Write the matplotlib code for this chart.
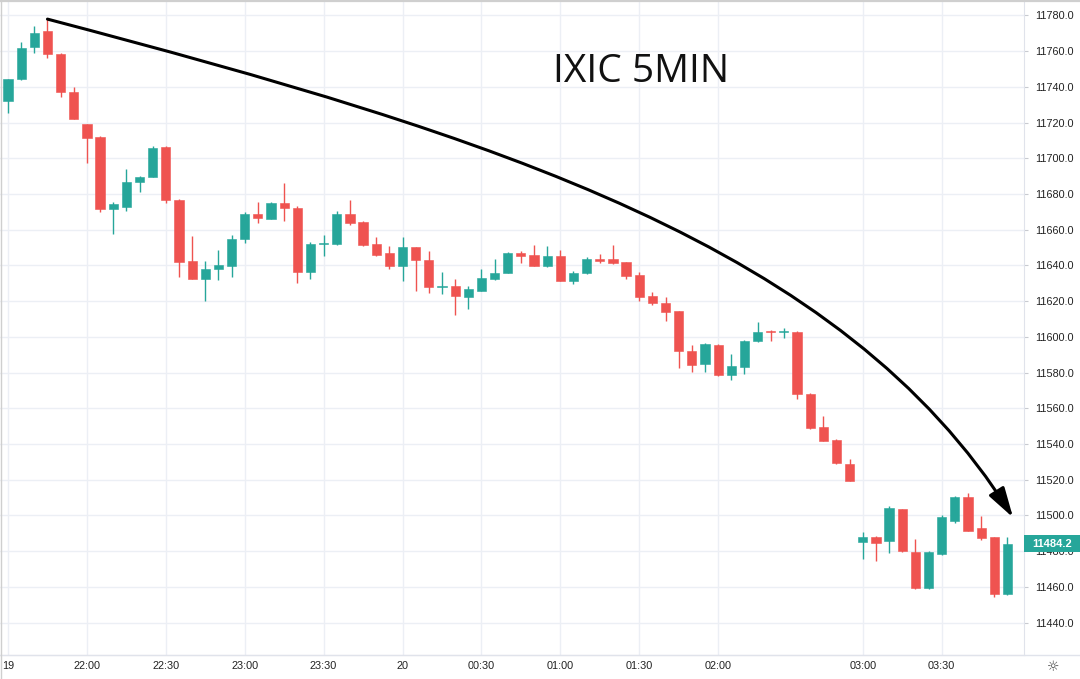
import matplotlib
matplotlib.use('Agg')
import matplotlib.pyplot as plt
import matplotlib.transforms as mtransforms
from matplotlib.path import Path
from matplotlib.patches import FancyArrowPatch, Rectangle
from matplotlib.lines import Line2D
import numpy as np

# IXIC 5分钟K线 (open, high, low, close)
opens = [11732.2, 11744.2, 11762.3, 11771.4, 11758.5, 11736.9, 11719.0, 11711.9, 11671.5, 11672.9,
         11686.6, 11689.5, 11706.3, 11676.7, 11642.7, 11632.5, 11637.9, 11639.4, 11654.7, 11668.8,
         11666.2, 11674.8, 11672.4, 11636.2, 11651.7, 11652.2, 11668.8, 11664.4, 11652.2, 11646.9,
         11639.9, 11650.2, 11643.1, 11627.8, 11628.2, 11622.4, 11625.9, 11632.5, 11635.7, 11646.9,
         11645.7, 11639.9, 11645.3, 11631.4, 11635.7, 11643.7, 11643.7, 11641.8, 11634.7, 11622.8,
         11619.2, 11614.2, 11592.2, 11584.8, 11595.6, 11578.8, 11583.2, 11597.4, 11603.4, 11602.7,
         11602.7, 11568.1, 11549.5, 11542.2, 11529.0, 11485.2, 11487.7, 11485.5, 11503.4, 11479.4,
         11459.4, 11478.1, 11496.7, 11510.5, 11492.8, 11487.7, 11456.1]
highs = [11744.5, 11765.1, 11774.0, 11777.9, 11758.7, 11739.7, 11719.3, 11712.2, 11675.6, 11693.8,
         11689.9, 11706.9, 11706.9, 11676.9, 11656.5, 11642.2, 11648.7, 11656.9, 11670.0, 11675.7,
         11675.4, 11686.0, 11673.0, 11653.0, 11657.1, 11670.7, 11676.7, 11665.0, 11655.8, 11651.1,
         11655.8, 11650.5, 11648.1, 11636.2, 11632.3, 11628.2, 11637.7, 11643.7, 11647.6, 11648.1,
         11651.5, 11650.9, 11648.7, 11637.0, 11644.5, 11646.5, 11651.5, 11642.0, 11636.2, 11625.2,
         11622.2, 11614.5, 11595.6, 11596.3, 11596.0, 11590.3, 11598.0, 11608.2, 11604.0, 11604.7,
         11603.0, 11568.5, 11555.8, 11542.5, 11531.6, 11490.9, 11488.5, 11505.5, 11503.7, 11486.5,
         11480.0, 11500.4, 11511.1, 11512.6, 11499.5, 11488.0, 11488.0]
lows = [11725.5, 11743.8, 11758.7, 11756.3, 11734.1, 11721.8, 11697.5, 11670.0, 11657.3, 11670.4,
        11681.3, 11689.3, 11675.2, 11633.4, 11632.3, 11620.0, 11631.9, 11633.4, 11652.4, 11663.6,
        11665.9, 11665.1, 11630.4, 11632.3, 11645.0, 11651.5, 11662.5, 11650.9, 11645.5, 11638.1,
        11631.4, 11625.9, 11624.8, 11623.9, 11612.3, 11615.5, 11625.5, 11631.7, 11635.5, 11641.6,
        11639.7, 11639.0, 11631.0, 11629.5, 11635.0, 11641.6, 11640.9, 11632.3, 11620.3, 11617.9,
        11609.1, 11582.7, 11580.1, 11580.1, 11577.8, 11575.6, 11579.2, 11597.0, 11597.4, 11599.3,
        11565.2, 11548.5, 11541.5, 11529.0, 11519.0, 11475.7, 11474.2, 11479.0, 11479.4, 11459.0,
        11459.0, 11477.8, 11496.0, 11491.0, 11486.1, 11454.4, 11455.5]
closes = [11744.4, 11761.9, 11769.9, 11758.2, 11737.3, 11722.0, 11711.5, 11671.5, 11674.3, 11686.7,
          11689.7, 11705.9, 11676.5, 11642.0, 11632.5, 11638.2, 11640.3, 11654.9, 11668.8, 11666.4,
          11674.8, 11672.4, 11636.2, 11652.2, 11652.8, 11668.8, 11664.0, 11651.5, 11645.9, 11639.9,
          11650.2, 11643.1, 11627.8, 11628.7, 11622.6, 11626.7, 11633.2, 11635.7, 11646.9, 11645.5,
          11639.9, 11645.3, 11631.4, 11635.7, 11643.7, 11642.7, 11641.4, 11634.3, 11622.4, 11618.9,
          11614.0, 11591.8, 11584.2, 11596.0, 11578.4, 11583.6, 11597.6, 11602.7, 11602.7, 11603.4,
          11567.8, 11549.0, 11541.8, 11529.4, 11519.5, 11487.7, 11484.6, 11504.4, 11479.9, 11459.4,
          11479.4, 11498.9, 11510.5, 11491.5, 11487.4, 11456.1, 11484.2]

# 时间轴标签（按K线序号）
tick_idx = [0, 6, 12, 18, 24, 30, 36, 42, 48, 54, 65, 71]
tick_labels = ['19', '22:00', '22:30', '23:00', '23:30', '20', '00:30', '01:00',
               '01:30', '02:00', '03:00', '03:30']
price_ticks = list(range(11440, 11781, 20))
title = 'IXIC 5MIN'

UP = '#26a69a'
DOWN = '#ef5350'

plt.rcParams['font.family'] = ['Liberation Sans', 'DejaVu Sans']

fig = plt.figure(figsize=(10.8, 6.79), dpi=100)
ax = fig.add_axes([0, 24.5 / 679, 1024 / 1080, 654.5 / 679])

o = np.array(opens)
h = np.array(highs)
l = np.array(lows)
c = np.array(closes)
x = np.arange(len(o))
cols = np.where(c >= o, UP, DOWN)

# 影线和实体
ax.vlines(x, l, h, colors=cols, lw=1, zorder=2)
body_low = np.minimum(o, c)
body_h = np.maximum(np.abs(c - o), 0.6)
ax.bar(x, body_h, bottom=body_low, width=0.7, color=cols, edgecolor=cols, lw=0.4, zorder=3)

ax.set_xlim(-0.61, 77.26)
ax.set_ylim(11422.1, 11788.6)

ax.set_xticks(tick_idx, tick_labels)
ax.set_yticks(price_ticks, ['%.1f' % v for v in price_ticks])
ax.yaxis.tick_right()
ax.grid(color='#eceff5', lw=1, zorder=0)
ax.tick_params(axis='x', length=0, pad=5, labelsize=7.8, labelcolor='#222222')
ax.tick_params(axis='y', length=3, color='#c8cad0', pad=5, labelsize=7.8, labelcolor='#222222')
for s in ['top', 'left']:
    ax.spines[s].set_visible(False)
for s in ['right', 'bottom']:
    ax.spines[s].set_color('#e0e3eb')

# 弧形箭头
verts = [(3, highs[3]), (37.2, 11711.6), (63.5, 11650.9), (76.43, 11498.8)]
arrow_path = Path(verts, [Path.MOVETO, Path.CURVE4, Path.CURVE4, Path.CURVE4])
arrow = FancyArrowPatch(path=arrow_path, arrowstyle='-|>,head_length=1.3,head_width=0.38',
                        mutation_scale=14, color='black', lw=2.2, zorder=5)
ax.add_patch(arrow)

# 标题
fig.text(553 / 1080, 1 - 81.7 / 679, title, fontfamily='Open Sans', fontsize=28,
         ha='left', va='baseline', color='#111111')

# 最新价标签
blend = mtransforms.blended_transform_factory(fig.transFigure, ax.transData)
last = closes[-1]
fig.add_artist(Rectangle((1024 / 1080, last - 4.8), 56 / 1080, 9.6, transform=blend,
                         facecolor=UP, edgecolor='none', zorder=10))
fig.text(1052 / 1080, last, '%.1f' % last, transform=blend, ha='center', va='center',
         color='white', fontsize=8, fontweight='bold', zorder=11)

# 边框线和设置图标
fig.add_artist(Line2D([0, 1], [1 - 654.5 / 679] * 2, color='#e0e3eb', lw=1))
fig.add_artist(Line2D([0, 1], [1 - 0.8 / 679] * 2, color='#cfcfcf', lw=1.6))
fig.add_artist(Line2D([0.5 / 1080] * 2, [0, 1], color='#cfcfcf', lw=1))
fig.text(1053 / 1080, 1 - 667 / 679, '☼', fontfamily='DejaVu Sans', fontsize=10,
         ha='center', va='center', color='#444444')

fig.savefig('out.png', dpi=100)
